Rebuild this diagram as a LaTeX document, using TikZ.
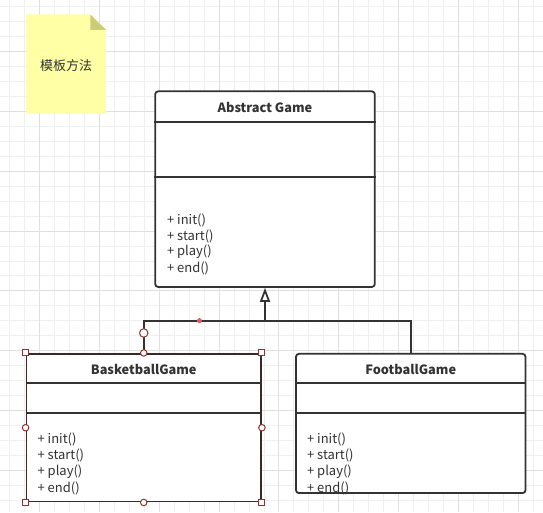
\documentclass[tikz,border=0pt]{standalone}
\usepackage{fontspec}
\setmainfont{Noto Sans CJK SC}
\usepackage{xcolor}
\usetikzlibrary{
  positioning, arrows.meta, calc,
}
\definecolor{cInk}       {HTML}{333333}
\definecolor{cGridMinor} {HTML}{F0F0F0}
\definecolor{cGridMajor} {HTML}{E0E0E0}
\definecolor{cNote}      {HTML}{FFFFA6}
\definecolor{cNoteFold}  {HTML}{CCCC77}
\definecolor{cSelect}    {HTML}{8B3434}
\definecolor{cSelBorder} {HTML}{3D2828}
\definecolor{cDot}       {HTML}{E05A5A}

\tikzset{
  gridminor/.style={draw=cGridMinor, line width=1pt},
  gridmajor/.style={draw=cGridMajor, line width=1pt},
  classbox/.style={draw=cInk, line width=1.8pt, rounded corners=3pt, fill=white, inner sep=0pt},
  classtitle/.style={font=\bfseries\fontsize{12.8}{15}\selectfont, text=cInk, inner sep=0pt},
  method/.style={anchor=west, font=\fontsize{13}{15}\selectfont, text=cInk, inner sep=0pt},
  classsep/.style={draw=cInk, line width=1.8pt},
  classlink/.style={draw=cInk, line width=1.8pt},
  inherit/.style={draw=cInk, line width=1.8pt, -{Triangle[width=10pt, length=14pt, fill=white]}},
  handlesq/.style={draw=cSelect, fill=white, line width=1pt, minimum size=6pt, inner sep=0pt},
  handlecirc/.style={circle, draw=cSelect, fill=white, line width=1pt, minimum size=6.5pt, inner sep=0pt},
}

\begin{document}
\begin{tikzpicture}[x=1pt, y=-1pt]
  % canvas + grid
  \fill[white] (0,0) rectangle (543,512);
  \foreach \gx in {9,24,...,534} \draw[gridminor] (\gx,0) -- (\gx,512);
  \foreach \gy in {6,21,...,506} \draw[gridminor] (0,\gy) -- (543,\gy);
  \foreach \gx in {39,99,...,519} \draw[gridmajor] (\gx,0) -- (\gx,512);
  \foreach \gy in {51,111,...,471} \draw[gridmajor] (0,\gy) -- (543,\gy);

  % note
  \fill[cNote] (26,14) -- (90,14) -- (105.7,29.5) -- (105.7,113.3) -- (26,113.3) -- cycle;
  \fill[cNoteFold] (90,14) -- (90,29.5) -- (105.7,29.5) -- cycle;
  \node[font=\fontsize{13}{15}\selectfont, text=cInk] (note) at (65.8,65) {模板方法};

  % classes
  \node[classbox, minimum width=220pt, minimum height=196pt] (abstract) at (265,189) {};
  \node[classbox, draw=cSelBorder, rounded corners=0pt, minimum width=235pt, minimum height=148pt] (basket) at (143.5,428) {};
  \node[classbox, minimum width=230pt, minimum height=139.5pt] (football) at (411,423.75) {};

  \node[classtitle] (abstract-title) at (265,107.3) {Abstract Game};
  \node[classtitle] (basket-title) at (143.5,369.3) {BasketballGame};
  \node[classtitle] (football-title) at (411,369.3) {FootballGame};

  \draw[classsep] ([yshift=-32pt]abstract.north west) -- ([yshift=-32pt]abstract.north east);
  \draw[classsep] ([yshift=-87pt]abstract.north west) -- ([yshift=-87pt]abstract.north east);
  \foreach \b in {basket, football}{
    \draw[classsep] ([yshift=-30pt]\b.north west) -- ([yshift=-30pt]\b.north east);
    \draw[classsep] ([yshift=-60pt]\b.north west) -- ([yshift=-60pt]\b.north east);
  }

  \foreach \m [count=\i] in {init,start,play,end}{
    \node[method] (abstract-m\i) at (166.7, {204+16*\i}) {+ \m()};
    \node[method] (basket-m\i) at (37, {424+16.1*\i}) {+ \m()};
    \node[method] (football-m\i) at (307, {424+16.1*\i}) {+ \m()};
  }

  % inheritance
  \coordinate (level) at (0,321);
  \coordinate (join) at (abstract.south |- level);
  \draw[classlink] (basket.north) |- (join);
  \draw[classlink] (football.north) |- (join);
  \draw[inherit] (join) -- (abstract.south);

  % selection handles
  \foreach \c [count=\i] in {north west, north east, south west, south east}
    \node[handlesq] (sq-\i) at (basket.\c) {};
  \foreach \c in {north, south, west, east}
    \node[handlecirc] (hc-\c) at (basket.\c) {};
  \node[handlecirc, minimum size=8.5pt] (hc-link) at ($(basket.north)+(0,-20)$) {};
  \node[circle, fill=cDot, minimum size=5pt, inner sep=0pt] (drag) at (199.3,320.7) {};
\end{tikzpicture}
\end{document}
